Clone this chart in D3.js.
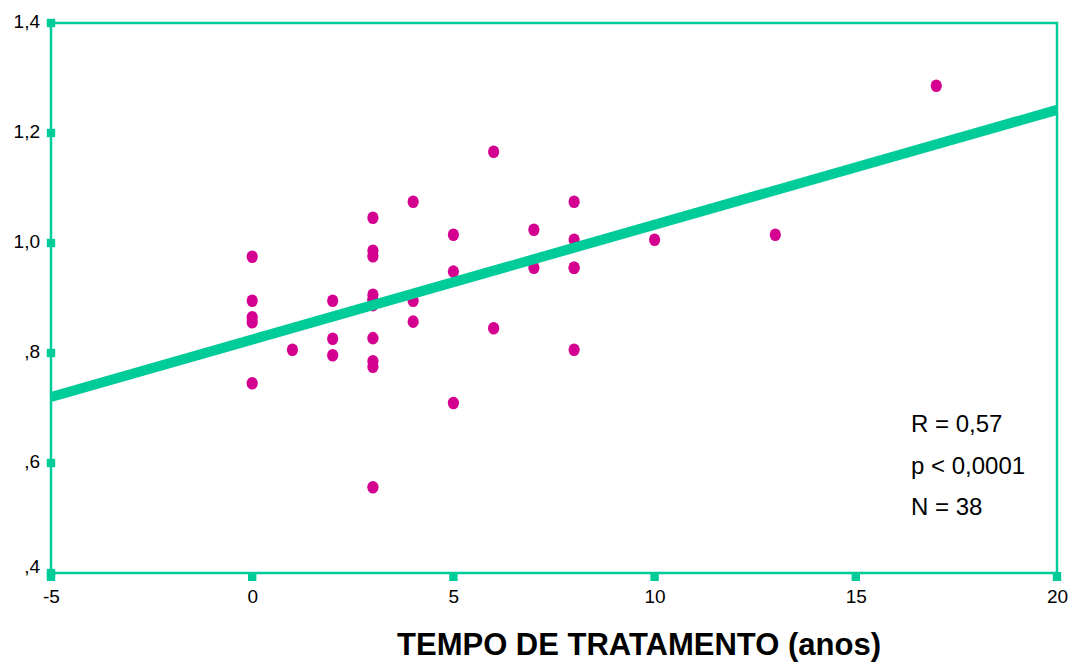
<!DOCTYPE html>
<html>
<head>
<meta charset="utf-8">
<script src="https://cdn.jsdelivr.net/npm/d3@7"></script>
<style>
    body { margin: 0; background: #fff; }
    svg { display: block; font-family: "Liberation Sans", Arial, sans-serif; }
</style>
</head>
<body>
<svg id="chart" width="1075" height="668"></svg>
<script>
// tempo de tratamento (anos) and the measured value for each patient
const tempoAnos = [0, 0, 0, 0, 0,
    1,
    2, 2, 2,
    3, 3, 3, 3, 3, 3, 3, 3, 3, 3, 3,
    4, 4, 4,
    5, 5, 5,
    6, 6,
    7, 7,
    8, 8, 8, 8, 8,
    10, 13, 17];
const valores = [0.975, 0.895, 0.865, 0.856, 0.745,
    0.806,
    0.895, 0.826, 0.796,
    1.046, 0.986, 0.976, 0.906, 0.897, 0.897, 0.887, 0.827, 0.785, 0.775, 0.556,
    1.075, 0.895, 0.857,
    1.015, 0.948, 0.709,
    1.166, 0.845,
    1.024, 0.955,
    1.075, 1.006, 0.955, 0.955, 0.806,
    1.006, 1.015, 1.286];

// fitted line, read at both ends of the x range
const fitX = [-5, 20];
const fitY = [0.72, 1.242];

const xTicks = [-5, 0, 5, 10, 15, 20];
const yTicks = [0.4, 0.6, 0.8, 1.0, 1.2, 1.4];
const yTickLabels = [",4", ",6", ",8", "1,0", "1,2", "1,4"];
const statLines = ["R = 0,57", "p < 0,0001", "N = 38"];
const xTitle = "TEMPO DE TRATAMENTO (anos)";

const green = '#00cc99';
const magenta = '#d4008f';

const svg = d3.select('#chart');
const plotL = 51, plotR = 1057, plotT = 23, plotB = 573;

const x = d3.scaleLinear().domain([-5, 20]).range([plotL, plotR]);
const y = d3.scaleLinear().domain([0.4, 1.4]).range([plotB, plotT]);

// frame
svg.append('rect')
    .attr('x', plotL).attr('y', plotT)
    .attr('width', plotR - plotL).attr('height', plotB - plotT)
    .attr('fill', 'none')
    .attr('stroke', green)
    .attr('stroke-width', 2.5);

// points
const pts = tempoAnos.map((t, i) => [t, valores[i]]);
svg.append('g')
    .selectAll('ellipse')
    .data(pts)
    .enter()
    .append('ellipse')
    .attr('cx', d => x(d[0]))
    .attr('cy', d => y(d[1]))
    .attr('rx', 5.6)
    .attr('ry', 6.3)
    .attr('fill', magenta);

// regression line
svg.append('path')
    .datum(fitX.map((v, i) => [v, fitY[i]]))
    .attr('d', d3.line().x(d => x(d[0])).y(d => y(d[1])))
    .attr('stroke', green)
    .attr('stroke-width', 10)
    .attr('stroke-linecap', 'butt')
    .attr('fill', 'none');

// x axis labels (tick marks are drawn as squares below)
const xAxis = d3.axisBottom(x).tickValues(xTicks).tickSize(0).tickPadding(17)
    .tickFormat(d => d);
const gx = svg.append('g').attr('transform', `translate(0,${plotB})`).call(xAxis);
gx.select('.domain').remove();
gx.selectAll('text')
    .attr('font-size', 19)
    .attr('fill', '#000')
    .attr('font-family', '"Liberation Sans", Arial, sans-serif');

// y axis labels
const yAxis = d3.axisLeft(y).tickValues(yTicks).tickSize(0).tickPadding(11)
    .tickFormat((d, i) => yTickLabels[i]);
const gy = svg.append('g').attr('transform', `translate(${plotL},0)`).call(yAxis);
gy.select('.domain').remove();
gy.selectAll('text')
    .attr('font-size', 19)
    .attr('fill', '#000')
    .attr('dy', (d, i) => i == 0 ? '-0.05em' : '0.25em')
    .attr('font-family', '"Liberation Sans", Arial, sans-serif');

// square tick marks
svg.append('g')
    .selectAll('rect')
    .data(yTicks)
    .enter()
    .append('rect')
    .attr('x', plotL - 4.2)
    .attr('y', d => y(d) - 4.2)
    .attr('width', 8.4)
    .attr('height', 8.4)
    .attr('fill', green);

svg.append('g')
    .selectAll('rect')
    .data(xTicks)
    .enter()
    .append('rect')
    .attr('x', d => x(d) - 4.2)
    .attr('y', plotB - 1)
    .attr('width', 8.4)
    .attr('height', 9)
    .attr('fill', green);

// statistics
svg.append('g')
    .selectAll('text')
    .data(statLines)
    .enter()
    .append('text')
    .attr('x', 911)
    .attr('y', (d, i) => 432 + i * 41.5)
    .attr('font-size', 24)
    .attr('fill', '#000')
    .text(d => d);

// axis title
svg.append('text')
    .attr('x', 639)
    .attr('y', 655)
    .attr('text-anchor', 'middle')
    .attr('font-size', 31)
    .attr('font-weight', 'bold')
    .attr('fill', '#000')
    .text(xTitle);
</script>
</body>
</html>
